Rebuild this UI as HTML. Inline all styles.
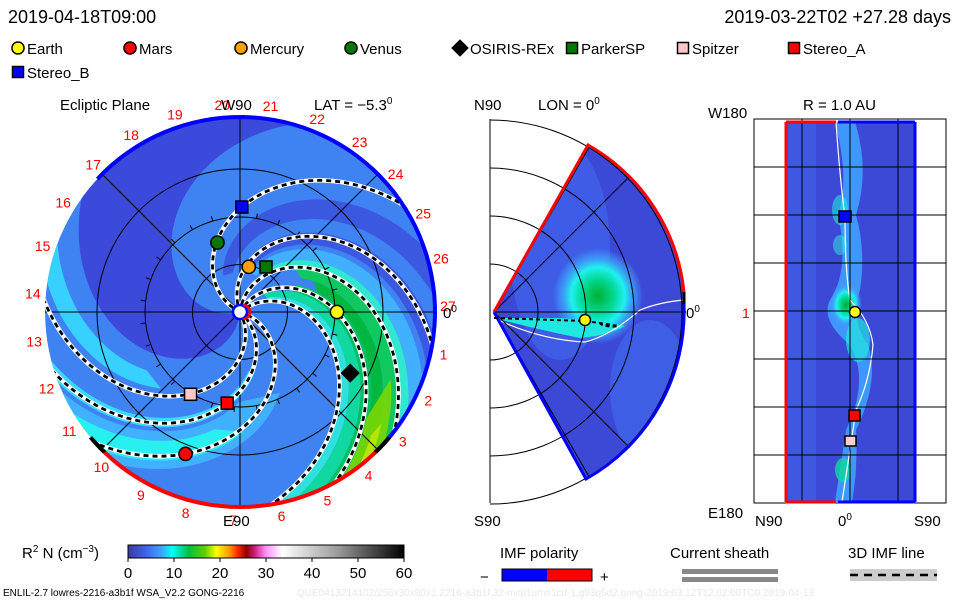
<!DOCTYPE html>
<html><head><meta charset="utf-8">
<style>
html,body{margin:0;padding:0;background:#fff;}
svg{display:block;font-family:"Liberation Sans",sans-serif;}
</style></head>
<body>
<svg id="s" width="960" height="600" viewBox="0 0 960 600" xmlns="http://www.w3.org/2000/svg">
<defs>
<linearGradient id="cb" x1="0" x2="1" y1="0" y2="0">
<stop offset="0" stop-color="#3a3aa0"/><stop offset="0.06" stop-color="#3f5fe8"/><stop offset="0.12" stop-color="#40a0ff"/>
<stop offset="0.16" stop-color="#00ffff"/><stop offset="0.22" stop-color="#00c040"/><stop offset="0.28" stop-color="#60d000"/>
<stop offset="0.32" stop-color="#ffff00"/><stop offset="0.37" stop-color="#ff9000"/><stop offset="0.40" stop-color="#ff2000"/>
<stop offset="0.43" stop-color="#900000"/><stop offset="0.46" stop-color="#d02080"/><stop offset="0.50" stop-color="#ff90ff"/>
<stop offset="0.56" stop-color="#ffffff"/><stop offset="0.75" stop-color="#a0a0a0"/><stop offset="1" stop-color="#000000"/>
</linearGradient>
<clipPath id="disk"><circle cx="240" cy="312" r="195"/></clipPath>
<clipPath id="wedge"><path d="M494,312 L588,145 A192,192 0 0 1 586,479 Z"/></clipPath>
<radialGradient id="gb1" cx="0.5" cy="0.5" r="0.5"><stop offset="0" stop-color="#00b030"/><stop offset="0.35" stop-color="#00d890"/><stop offset="0.6" stop-color="#20f0f0"/><stop offset="0.85" stop-color="#40a0ff" stop-opacity="0.6"/><stop offset="1" stop-color="#40a0ff" stop-opacity="0"/></radialGradient>
</defs>

<g font-size="18" fill="#000">
<text x="8" y="23">2019-04-18T09:00</text>
<text x="951" y="23" text-anchor="end">2019-03-22T02 +27.28 days</text>
</g>
<g id="legend" font-size="15"></g>

<g>
<text x="60" y="110" font-size="15">Ecliptic Plane</text>
<text x="314" y="110" font-size="15">LAT = −5.3<tspan dy="-6" font-size="10">0</tspan></text>
<g clip-path="url(#disk)" id="diskfill">
<circle cx="240" cy="312" r="195" fill="#3f82f2"/>
</g>
<g id="diskover"></g>
<text x="221" y="110" font-size="15">W90</text>
<text x="223" y="526" font-size="15">E90</text>
<text x="443" y="318" font-size="15">0<tspan dy="-6" font-size="10">0</tspan></text>
</g>

<g>
<text x="474" y="110" font-size="15">N90</text>
<text x="538" y="110" font-size="15">LON = 0<tspan dy="-6" font-size="10">0</tspan></text>
<text x="474" y="526" font-size="15">S90</text>
<g clip-path="url(#wedge)">
<rect x="480" y="120" width="220" height="380" fill="#3c48d6"/>
<ellipse cx="560" cy="250" rx="50" ry="110" fill="#3f62e8" opacity="0.8"/>
<ellipse cx="650" cy="390" rx="40" ry="70" fill="#4070ee" opacity="0.6"/>
<ellipse cx="598" cy="296" rx="45" ry="48" fill="url(#gb1)"/>
<path d="M494,318 Q540,330 580,338 Q610,335 625,326 Q600,320 560,318 Z" fill="#20e8e0"/>
<path d="M494,318 Q540,340 585,342 Q610,336 640,310 Q660,302 684,300" fill="none" stroke="#fff" stroke-width="1.2"/>
</g>
<g id="mergrid" fill="none" stroke="#000" stroke-width="1"></g>
<path d="M494,312 L588,145 A192,192 0 0 1 684,292" fill="none" stroke="#f00" stroke-width="3"/>
<path d="M494,312 L586,479 A192,192 0 0 0 684,304" fill="none" stroke="#00f" stroke-width="3"/>
<line x1="684" y1="292" x2="684" y2="304" stroke="#000" stroke-width="3"/>
<path d="M494,318 L585,321 Q615,325 618,326 Q610,328 600,324" fill="none" stroke="#000" stroke-width="2" stroke-dasharray="4,3"/>
<circle cx="585" cy="320" r="5.5" fill="#ff0" stroke="#000" stroke-width="1.5"/>
<text x="686" y="318" font-size="15">0<tspan dy="-6" font-size="10">0</tspan></text>
</g>

<g>
<text x="803" y="110" font-size="15">R = 1.0 AU</text>
<text x="708" y="118" font-size="15">W180</text>
<text x="708" y="518" font-size="15">E180</text>
<text x="755" y="526" font-size="15">N90</text>
<text x="838" y="526" font-size="15">0<tspan dy="-6" font-size="10">0</tspan></text>
<text x="914" y="526" font-size="15">S90</text>
<text x="742" y="318" font-size="14" fill="#e00000">1</text>
<rect x="786" y="122" width="129" height="380" fill="#3c48d6"/>
<rect x="786" y="122" width="30" height="380" fill="#3f5ce4" opacity="0.8"/>
<path d="M835,122 Q850,180 838,215 Q850,270 830,300 Q820,320 850,345 Q870,380 846,430 Q840,470 835,502 L852,502 Q858,470 856,430 Q880,380 868,345 Q850,320 860,290 Q866,250 856,215 Q870,170 855,122 Z" fill="#40a0ff" opacity="0.9"/>
<ellipse cx="846" cy="305" rx="16" ry="22" fill="url(#gb1)"/>
<ellipse cx="858" cy="340" rx="12" ry="22" fill="#20e8e0" opacity="0.7"/>
<ellipse cx="840" cy="210" rx="8" ry="15" fill="#20e8e0" opacity="0.6"/>
<ellipse cx="840" cy="245" rx="7" ry="10" fill="#30f0e0" opacity="0.5"/>
<ellipse cx="843" cy="470" rx="8" ry="12" fill="#10d8a0" opacity="0.8"/>
<path d="M836,122 Q840,180 845,217 Q845,270 850,300 Q870,320 873,345 Q870,380 856,410 Q850,450 842,502" fill="none" stroke="#fff" stroke-width="1.2"/>
<g id="radgrid" stroke="#000" stroke-width="1" fill="none"></g>
<line x1="786" y1="122" x2="786" y2="502" stroke="#f00" stroke-width="3"/>
<line x1="915" y1="122" x2="915" y2="502" stroke="#00f" stroke-width="3"/>
<line x1="786" y1="122" x2="836" y2="122" stroke="#f00" stroke-width="3"/>
<line x1="838" y1="122" x2="915" y2="122" stroke="#00f" stroke-width="3"/>
<line x1="786" y1="502" x2="836" y2="502" stroke="#f00" stroke-width="3"/>
<line x1="838" y1="502" x2="915" y2="502" stroke="#00f" stroke-width="3"/>
<rect x="839" y="211" width="12" height="11" fill="#00f" stroke="#000" stroke-width="1.5"/>
<circle cx="855" cy="312" r="5.5" fill="#ff0" stroke="#000" stroke-width="1.5"/>
<rect x="849" y="410" width="11" height="11" fill="#f00" stroke="#000" stroke-width="1.5"/>
<rect x="845" y="436" width="11" height="10" fill="#fcc" stroke="#000" stroke-width="1.5"/>
</g>

<g>
<text x="22" y="558" font-size="15">R<tspan dy="-6" font-size="10">2</tspan><tspan dy="6"> N (cm</tspan><tspan dy="-6" font-size="10">−3</tspan><tspan dy="6">)</tspan></text>
<rect x="128" y="545" width="276" height="13" fill="url(#cb)" stroke="#000" stroke-width="1"/>
<g id="cbticks" font-size="15"></g>
</g>
<g>
<text x="500" y="558" font-size="15">IMF polarity</text>
<text x="480" y="582" font-size="15">−</text>
<rect x="502" y="569" width="45" height="12" fill="#00f"/><rect x="547" y="569" width="45" height="12" fill="#f00"/>
<rect x="502" y="569" width="90" height="12" fill="none" stroke="#000"/>
<text x="600" y="582" font-size="15">+</text>
</g>
<g>
<text x="670" y="558" font-size="15">Current sheath</text>
<rect x="682" y="569" width="96" height="5" fill="#888"/><rect x="682" y="577" width="96" height="5" fill="#888"/>
</g>
<g>
<text x="848" y="558" font-size="15">3D IMF line</text>
<rect x="850" y="569" width="87" height="12" fill="#ccc"/>
<line x1="850" y1="575" x2="937" y2="575" stroke="#000" stroke-width="2.5" stroke-dasharray="8,6"/>
</g>
<text x="3" y="596" font-size="10">ENLIL-2.7 lowres-2216-a3b1f WSA_V2.2 GONG-2216</text>
<text x="297" y="596" font-size="10" fill="#e8e8e8">QUE0413214102/256x30x90x1.2216-a3b1f.32-mcp1umn1cd-1.g53q5d2.gong-2019:03:12T12:02:00TC0    2019-04-13</text>
</svg>
<script>
const NS='http://www.w3.org/2000/svg';
function mk(tag,attrs,parent){const e=document.createElementNS(NS,tag);for(const k in attrs)e.setAttribute(k,attrs[k]);parent.appendChild(e);return e;}
const CX=240,CY=312,R=195,AU=97;
function pt(r,deg){const a=deg*Math.PI/180;return [CX+r*Math.cos(a),CY-r*Math.sin(a)];}
const WIND=60;
function spiral(th0,r1,r2){let p=[];for(let r=r1;r<=r2;r+=3){p.push(pt(r,th0-WIND*r/AU));}return p;}
function strip(a,b,r1,r2){const p=spiral(a,r1,r2).concat(spiral(b,r1,r2).reverse());return 'M'+p.map(q=>q[0].toFixed(1)+','+q[1].toFixed(1)).join('L')+'Z';}

// Density bands: start longitude, end longitude, inner radius, colour
const bandStart=[-165,-80,-35,-28,-45,40,47,56,64,72,82,90,104,125];
const bandEnd  =[-95,-68,-8,-14,-38,47,56,64,72,82,90,100,114,140];
const bandInner=[8,110,90,120,60,30,30,60,80,70,50,40,40,40];
const bandColor=['#3b4ada','#38d0ff','#40b0ff','#28f0f0','#38d8ff','#30e0e0','#10d8a0','#00c060','#00b840','#10c860','#30e8d0','#40b0ff','#3b58e0','#3b58e0'];
const fill=document.getElementById('diskfill');
bandStart.forEach((a,i)=>{
  const e=mk('path',{d:strip(a,bandEnd[i],bandInner[i],240),fill:bandColor[i]},fill);
  
  
});
const gs=mk('path',{d:strip(62,78,165,240),fill:'#80d800',opacity:'0.85'},fill);


const gs2=mk('path',{d:strip(68,73,180,240),fill:'#c0e800',opacity:'0.9'},fill);



const ov=document.getElementById('diskover');
[47.5,95,143].forEach(r=>{const c=mk('circle',{cx:CX,cy:CY,r:r,fill:'none',stroke:'#000','stroke-width':1},ov);

});
[0,45,90,135].forEach(a=>{const p1=pt(R,a),p2=pt(R,a+180);const l=mk('line',{x1:p1[0],y1:p1[1],x2:p2[0],y2:p2[1],stroke:'#000','stroke-width':1},ov);

});
for(let a=0;a<360;a+=13.33){const p1=pt(95,a),p2=pt(100,a);mk('line',{x1:p1[0],y1:p1[1],x2:p2[0],y2:p2[1],stroke:'#000','stroke-width':1},ov);}
const imfStart=[154,111,83,60,40,-17,-41,-62];
imfStart.forEach(a=>{
  const d='M'+spiral(a,8,215).map(q=>q[0].toFixed(1)+','+q[1].toFixed(1)).join('L');
  const g=mk('g',{'clip-path':'url(#disk)'},ov);
  
  
  mk('path',{d:d,fill:'none',stroke:'#fff','stroke-width':4.5},g);
  mk('path',{d:d,fill:'none',stroke:'#000','stroke-width':2.8,'stroke-dasharray':'5,4'},g);
});
function arc(a1,a2,col,w){let p=[];const n=60;for(let i=0;i<=n;i++){p.push(pt(R,a1+(a2-a1)*i/n));}
 return mk('path',{d:'M'+p.map(q=>q[0].toFixed(1)+','+q[1].toFixed(1)).join('L'),fill:'none',stroke:col,'stroke-width':w},ov);}
const bl=arc(-43,137,'#00f',4);


const rd=arc(-43,-137,'#f00',4);


arc(-46,-40,'#000',4);arc(-140,-134,'#000',4);
for(let k=1;k<=27;k++){const p=pt(208,1.5-13.33*k);const t=mk('text',{x:p[0],y:p[1]+5,'font-size':14,fill:'#f00','text-anchor':'middle'},ov);t.textContent=String(k);

}
const sun=mk('circle',{cx:CX,cy:CY,r:7,fill:'#fff',stroke:'#00f','stroke-width':2.5},ov);


mk('path',{d:'M243,305 A7,7 0 0 1 243,319',fill:'none',stroke:'#f00','stroke-width':2.5},ov);

const bodyNames=['Earth','Mars','Mercury','Venus','OSIRIS-REx','ParkerSP','Spitzer','Stereo_A','Stereo_B'];
const bodyShape=['c','c','c','c','d','s','s','s','s'];
const bodyColor=['#ffff00','#ff0000','#ffa000','#007800','#000000','#007800','#ffc8c8','#ff0000','#0000ff'];
const bodyR=[97,152,46,73,126,52,96,92,105];
const bodyAng=[0,-111,79,108,-29,60,-121,-98,89];
function marker(shape,col,x,y,s,parent){
  if(shape==='c')return mk('circle',{cx:x,cy:y,r:s*0.55,fill:col,stroke:'#000','stroke-width':1.5},parent);
  if(shape==='s')return mk('rect',{x:x-s/2,y:y-s/2,width:s,height:s,fill:col,stroke:'#000','stroke-width':1.5},parent);
  return mk('path',{d:`M${x},${y-s*0.8}L${x+s*0.8},${y}L${x},${y+s*0.8}L${x-s*0.8},${y}Z`,fill:col},parent);
}
bodyNames.forEach((n,i)=>{const p=pt(bodyR[i],bodyAng[i]);const m=marker(bodyShape[i],bodyColor[i],p[0],p[1],12,ov);

});

const leg=document.getElementById('legend');
const legX=[18,130,241,351,460,572,683,794,18];
const legY=[48,48,48,48,48,48,48,48,72];
bodyNames.forEach((n,i)=>{const m=marker(bodyShape[i],bodyColor[i],legX[i],legY[i],11,leg);


const t=mk('text',{x:legX[i]+(bodyShape[i]==='d'?10:9),y:legY[i]+6},leg);t.textContent=n;

});

const mg=document.getElementById('mergrid');
mk('line',{x1:490,y1:119,x2:490,y2:503},mg);
[48,96,144,192].forEach(r=>{mk('path',{d:`M490,${312-r} A${r},${r} 0 0 1 490,${312+r}`},mg);});
[60,45,0,-45,-60].forEach(a=>{const ar=a*Math.PI/180;mk('line',{x1:494,y1:312,x2:494+192*Math.cos(ar),y2:312-192*Math.sin(ar)},mg);});

const rg=document.getElementById('radgrid');
mk('rect',{x:754,y:119,width:192,height:384},rg);
[802,850,898].forEach(x=>mk('line',{x1:x,y1:119,x2:x,y2:503},rg));
[167,215,263,311,359,407,455].forEach(y=>mk('line',{x1:754,y1:y,x2:946,y2:y},rg));

const cbTicks=[0,10,20,30,40,50,60];
const cbt=document.getElementById('cbticks');
cbTicks.forEach(v=>{const x=128+276*v/60;mk('line',{x1:x,y1:558,x2:x,y2:562,stroke:'#000'},cbt);
const t=mk('text',{x:x,y:578,'text-anchor':'middle'},cbt);t.textContent=String(v);

});
</script>
</body></html>
